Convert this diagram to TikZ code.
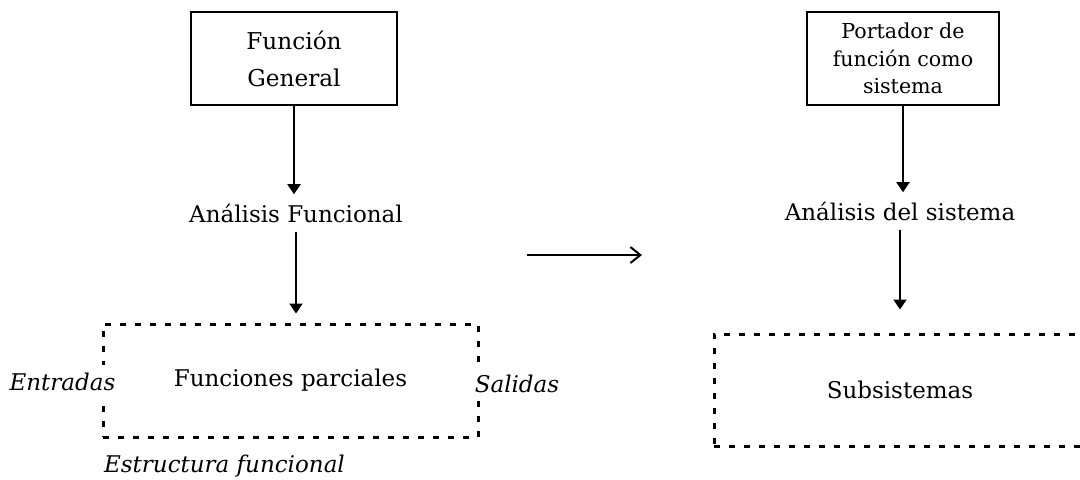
\documentclass[tikz,border=0pt]{standalone}
\usepackage{fontspec}
\setmainfont{DejaVu Serif}
\usetikzlibrary{arrows.meta}
\newcommand{\tam}{\fontsize{11.5}{14}\selectfont}
\begin{document}
\begin{tikzpicture}[x=0.5pt,y=-0.5pt,>={Triangle[length=5pt,width=6.5pt]},
  caja/.style={draw,line width=1pt,align=center,inner sep=0pt,minimum height=46.5pt},
  punteada/.style={draw,line width=1.5pt,dash pattern=on 3pt off 4.5pt,inner sep=0pt,font=\tam},
  texto/.style={anchor=base,inner sep=4.5pt,font=\tam},
  etiqueta/.style={anchor=base,inner sep=4pt,fill=white,font=\tam\itshape},
  flecha/.style={->,line width=1pt}]
\useasboundingbox (0,0) rectangle (1080,479);
\node[caja,minimum width=103pt,font=\fontsize{11.6}{18.5}\selectfont] (fg) at (294,58.5) {Función\\General};
\node[texto] (af) at (296,222) {Análisis Funcional};
\node[punteada,minimum width=187.5pt,minimum height=56.5pt] (fp) at (290.5,380.5) {Funciones parciales};
\node[etiqueta] (ent) at (62.5,390) {Entradas};
\node[etiqueta] (sal) at (517,392) {Salidas};
\node[etiqueta,fill=none] (ef) at (224.5,472) {Estructura funcional};
\draw[flecha] (fg.south) -- (fg.south |- af.north);
\draw[flecha,shorten >=4.5pt] (af.south) -- (af.south |- fp.north);
\coordinate (ini) at (527,255);
\coordinate (fin) at (642,255);
\draw[-{Straight Barb[length=5pt,width=8pt]},line width=1pt] (ini) -- (fin);
\node[caja,minimum width=96pt,font=\fontsize{10.3}{13.75}\selectfont] (ps) at (903,58.5) {Portador de\\función como\\sistema};
\node[texto] (ads) at (900,220) {Análisis del sistema};
\node[punteada,minimum width=186pt,minimum height=56pt] (ss) at (900,390) {Subsistemas};
\draw[flecha] (ps.south) -- (ps.south |- ads.north);
\draw[flecha,shorten >=11.5pt] (ads.south) -- (ads.south |- ss.north);
\end{tikzpicture}
\end{document}
